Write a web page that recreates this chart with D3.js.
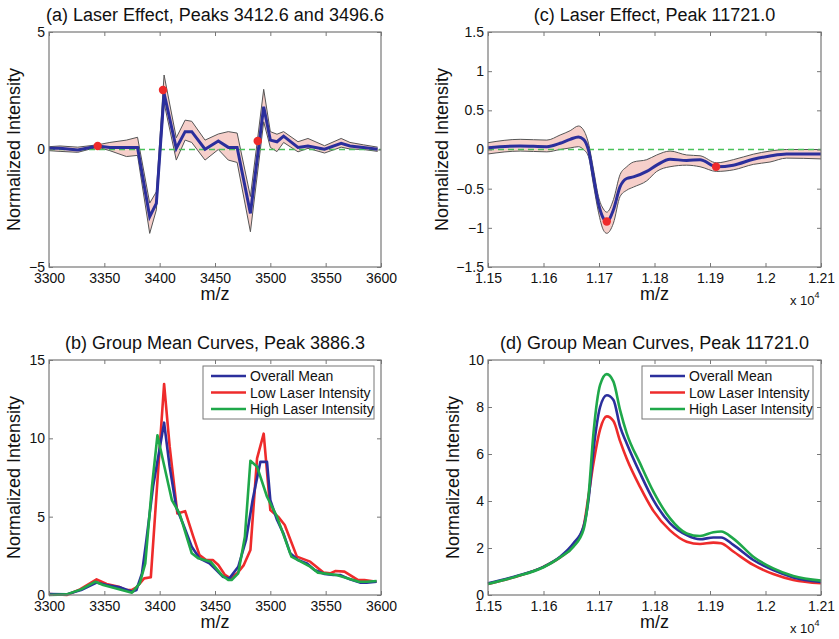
<!DOCTYPE html>
<html>
<head>
<meta charset="utf-8">
<script src="https://cdn.jsdelivr.net/npm/d3@7"></script>
<style>
  body { margin: 0; background: #fff; }
  svg { font-family: "Liberation Sans", Arial, Helvetica, sans-serif; }
</style>
</head>
<body>
<svg class="chart" width="839" height="639"></svg>
<script>
// ---- data: panel (a) laser effect, peaks 3412.6 / 3496.6
const aMz    = [3300, 3310, 3326, 3344, 3355, 3370, 3380, 3391, 3397, 3404, 3415, 3423, 3429, 3441, 3453, 3462, 3470, 3482, 3494, 3500, 3506, 3512, 3525, 3534, 3549, 3564, 3572, 3584, 3597];
const aMean  = [0.05, 0.05, -0.02, 0.15, 0.09, 0.09, 0.09, -2.86, -2.29, 2.39, 0.05, 0.76, 0.76, 0.01, 0.36, 0.09, 0.09, -2.72, 1.82, 0.4, 0.33, 0.57, 0.09, 0.15, 0.01, 0.26, 0.15, 0.09, 0.01];
const aUpper = [0.12, 0.15, 0.1, 0.2, 0.3, 0.4, 0.52, -2.28, -1.8, 3.17, 0.5, 1.25, 1.2, 0.4, 0.66, 0.76, 0.7, -2.0, 2.56, 0.76, 0.65, 0.76, 0.33, 0.47, 0.16, 0.47, 0.3, 0.2, 0.1];
const aLower = [-0.05, -0.08, -0.12, 0.1, -0.05, -0.3, -0.25, -3.57, -2.57, 1.98, -0.45, 0.4, 0.3, -0.45, 0.0, -0.45, -0.55, -3.5, 1.18, 0.09, -0.09, 0.3, -0.1, 0.05, -0.15, 0.1, 0.02, 0.0, -0.08];
const aDots  = [[3344, 0.15], [3403, 2.53], [3488.6, 0.36]];

// ---- panel (c) laser effect, peak 11721.0
const cMz    = [11500, 11558, 11606, 11630, 11648, 11663, 11672, 11681, 11690, 11699, 11708, 11714, 11726, 11738, 11750, 11762, 11786, 11804, 11828, 11858, 11882, 11912, 11942, 11978, 12008, 12038, 12100];
const cMean  = [0.023, 0.045, 0.036, 0.08, 0.13, 0.16, 0.13, -0.006, -0.35, -0.69, -0.88, -0.92, -0.77, -0.475, -0.37, -0.35, -0.28, -0.2, -0.125, -0.14, -0.13, -0.22, -0.2, -0.125, -0.083, -0.057, -0.057];
const cUpper = [0.087, 0.13, 0.12, 0.185, 0.24, 0.3, 0.25, 0.08, -0.25, -0.6, -0.76, -0.8, -0.64, -0.32, -0.22, -0.16, -0.13, -0.07, -0.02, -0.07, -0.08, -0.17, -0.13, -0.06, -0.02, 0.0, 0.0];
const cLower = [-0.057, -0.02, -0.03, 0.0, 0.02, 0.036, 0.0, -0.09, -0.45, -0.8, -1.03, -1.07, -0.94, -0.6, -0.52, -0.48, -0.4, -0.28, -0.22, -0.2, -0.22, -0.28, -0.26, -0.19, -0.16, -0.11, -0.12];
const cDots  = [[11714, -0.92], [11911, -0.22]];

// ---- panel (b) group mean curves, peak 3886.3
const bMeanMz = [3300, 3316, 3329, 3343, 3352, 3364, 3375, 3379, 3384, 3388, 3394, 3404, 3409, 3415, 3421, 3429, 3436, 3445, 3451, 3457, 3463, 3471, 3478, 3484, 3491, 3497, 3500, 3506, 3512, 3518, 3525, 3533, 3540, 3549, 3557, 3563, 3572, 3581, 3587, 3596];
const bMean   = [0.06, 0.04, 0.32, 0.8, 0.64, 0.49, 0.21, 0.32, 1.38, 3.5, 6.9, 11.0, 8.2, 5.6, 4.57, 3.08, 2.34, 2.02, 1.6, 1.17, 1.06, 1.8, 3.5, 6.06, 8.5, 8.5, 6.06, 4.8, 3.9, 2.66, 2.23, 2.02, 1.6, 1.34, 1.28, 1.28, 1.0, 0.79, 0.79, 0.85];
const bLowMz  = [3300, 3316, 3328, 3343, 3352, 3363, 3369, 3375, 3379, 3386, 3392, 3404, 3409, 3416, 3423, 3430, 3436, 3442, 3448, 3453, 3459, 3464, 3470, 3476, 3482, 3488, 3494, 3500, 3507, 3513, 3524, 3536, 3548, 3554, 3559, 3567, 3579, 3585, 3596];
const bLow    = [0.06, 0.0, 0.36, 1.0, 0.7, 0.53, 0.32, 0.32, 0.49, 1.06, 1.13, 13.47, 9.5, 5.2, 5.35, 3.8, 2.55, 2.23, 2.23, 1.91, 1.28, 1.06, 1.38, 1.91, 2.87, 8.72, 10.3, 5.42, 5.0, 4.47, 2.45, 2.13, 1.43, 1.38, 1.53, 1.49, 0.96, 0.96, 0.85];
const bHighMz = [3300, 3316, 3329, 3342, 3349, 3375, 3382, 3387, 3393, 3398, 3403, 3411, 3418, 3429, 3435, 3446, 3456, 3462, 3465, 3471, 3477, 3482, 3488, 3497, 3506, 3519, 3525, 3536, 3543, 3560, 3580, 3587, 3596];
const bHigh   = [0.0, 0.04, 0.36, 0.85, 0.64, 0.15, 0.74, 2.02, 6.9, 10.2, 8.6, 6.06, 5.2, 2.66, 2.34, 2.13, 1.28, 0.96, 0.96, 1.38, 3.72, 8.57, 8.19, 6.27, 5.0, 2.45, 2.23, 1.81, 1.43, 1.28, 0.85, 0.85, 0.89];

// ---- panel (d) group mean curves, peak 11721.0
const dMz   = [11500, 11550, 11600, 11630, 11654, 11672, 11681, 11690, 11702, 11714, 11726, 11738, 11750, 11774, 11798, 11828, 11858, 11882, 11906, 11920, 11942, 11978, 12014, 12050, 12100];
const dMean = [0.5, 0.8, 1.2, 1.63, 2.2, 2.9, 4.04, 6.17, 8.0, 8.5, 8.3, 7.16, 6.45, 5.18, 4.04, 3.05, 2.55, 2.37, 2.45, 2.45, 2.13, 1.49, 1.06, 0.75, 0.56];
const dLow  = [0.47, 0.78, 1.2, 1.6, 2.09, 2.9, 4.2, 5.6, 7.05, 7.6, 7.4, 6.55, 5.8, 4.6, 3.58, 2.75, 2.27, 2.17, 2.23, 2.2, 1.85, 1.28, 0.89, 0.64, 0.5];
const dHigh = [0.47, 0.78, 1.18, 1.6, 2.06, 2.77, 4.18, 6.88, 8.94, 9.4, 9.08, 7.87, 6.88, 5.6, 4.4, 3.26, 2.62, 2.51, 2.67, 2.7, 2.4, 1.63, 1.13, 0.81, 0.61];

// ticks / labels
const lowMzTicks  = [3300, 3350, 3400, 3450, 3500, 3550, 3600];
const highMzTicks = [11500, 11600, 11700, 11800, 11900, 12000, 12100];
const legendNames = ["Overall Mean", "Low Laser Intensity", "High Laser Intensity"];

// config
const frameColor = "#777";
const blue = "#2b2f9c";
const red = "#ee2b2b";
const green = "#1fa84a";
const svg = d3.select("svg.chart");

const minus = s => s.replace("-", "\u2212");
const fmtPlain = d => minus(String(d));
const fmtE4 = d => String(+(d / 1e4).toFixed(3));

function pairs(xs, ys) {
  return xs.map((v, i) => [v, ys[i]]);
}

function makePanel(box, xDomain, yDomain, xTicks, yTicks, xFmt, title, yLabelX, expLabel) {
  const x = d3.scaleLinear().domain(xDomain).range([box.left, box.right]);
  const y = d3.scaleLinear().domain(yDomain).range([box.bottom, box.top]);
  const g = svg.append("g");
  const data = g.append("g");
  const axes = g.append("g");

  axes.append("rect")
    .attr("x", box.left).attr("y", box.top)
    .attr("width", box.right - box.left).attr("height", box.bottom - box.top)
    .attr("fill", "none").attr("stroke", frameColor).attr("stroke-width", 1.2);

  const put = (axis, tx, ty) => {
    const a = axes.append("g").attr("transform", `translate(${tx},${ty})`).call(axis);
    a.select(".domain").remove();
    a.selectAll(".tick line").attr("stroke", frameColor);
    a.selectAll(".tick text").attr("fill", "#111").style("font-size", "14px");
    return a;
  };
  put(d3.axisBottom(x).tickValues(xTicks).tickFormat(xFmt).tickSizeInner(-4).tickSizeOuter(0).tickPadding(6), 0, box.bottom);
  put(d3.axisTop(x).tickValues(xTicks).tickFormat("").tickSizeInner(-4).tickSizeOuter(0), 0, box.top);
  put(d3.axisLeft(y).tickValues(yTicks).tickFormat(fmtPlain).tickSizeInner(-4).tickSizeOuter(0).tickPadding(4), box.left, 0);
  put(d3.axisRight(y).tickValues(yTicks).tickFormat("").tickSizeInner(-4).tickSizeOuter(0), box.right, 0);

  const cx = (box.left + box.right) / 2;
  axes.append("text").attr("x", cx).attr("y", box.top - 11)
    .attr("text-anchor", "middle").style("font-size", "18px").attr("fill", "#111").text(title);
  axes.append("text").attr("x", cx).attr("y", box.bottom + 33)
    .attr("text-anchor", "middle").style("font-size", "18px").attr("fill", "#111").text("m/z");
  axes.append("text")
    .attr("transform", `translate(${yLabelX},${(box.top + box.bottom) / 2}) rotate(-90)`)
    .attr("text-anchor", "middle").style("font-size", "18px").attr("fill", "#111").text("Normalized Intensity");

  if (expLabel) {
    const t = axes.append("text").attr("x", box.right - 31).attr("y", box.bottom + 38)
      .style("font-size", "13px").attr("fill", "#111");
    t.append("tspan").text("x 10");
    t.append("tspan").attr("dy", -7).style("font-size", "9px").text("4");
  }
  return { x, y, data, axes };
}

function drawBand(p, mz, mean, upper, lower, dots, curve) {
  const area = d3.area().x(d => p.x(d[0])).y0(d => p.y(d[2])).y1(d => p.y(d[1])).curve(curve);
  const rows = mz.map((m, i) => [m, upper[i], lower[i]]);
  p.data.append("path").attr("d", area(rows)).attr("fill", "#f6cfca").attr("stroke", "none");
  const line = d3.line().x(d => p.x(d[0])).y(d => p.y(d[1])).curve(curve);
  p.data.append("path").attr("d", line(pairs(mz, upper))).attr("fill", "none").attr("stroke", "#555").attr("stroke-width", 1);
  p.data.append("path").attr("d", line(pairs(mz, lower))).attr("fill", "none").attr("stroke", "#555").attr("stroke-width", 1);
  // zero reference line
  p.data.append("line")
    .attr("x1", p.x.range()[0]).attr("x2", p.x.range()[1])
    .attr("y1", p.y(0)).attr("y2", p.y(0))
    .attr("stroke", "#49c25a").attr("stroke-width", 1.3).attr("stroke-dasharray", "6,4");
  p.data.append("path").attr("d", line(pairs(mz, mean))).attr("fill", "none").attr("stroke", blue).attr("stroke-width", 3);
  p.data.selectAll("circle.dot").data(dots).enter().append("circle")
    .attr("class", "dot")
    .attr("cx", d => p.x(d[0])).attr("cy", d => p.y(d[1])).attr("r", 4.2)
    .attr("fill", "#ee2a2a");
}

function drawGroups(p, series, curve) {
  const line = d3.line().x(d => p.x(d[0])).y(d => p.y(d[1])).curve(curve);
  series.forEach(s => {
    p.data.append("path").attr("d", line(pairs(s.mz, s.v)))
      .attr("fill", "none").attr("stroke", s.color).attr("stroke-width", 2.6)
      .attr("stroke-linejoin", "round");
  });
}

function drawLegend(p, left, top, colors) {
  const w = 171, h = 53;
  const lg = p.axes.append("g").attr("transform", `translate(${left},${top})`);
  lg.append("rect").attr("width", w).attr("height", h).attr("fill", "#fff").attr("stroke", frameColor).attr("stroke-width", 1);
  legendNames.forEach((name, i) => {
    const yy = 10 + i * 16.5;
    lg.append("line").attr("x1", 8).attr("x2", 43).attr("y1", yy).attr("y2", yy)
      .attr("stroke", colors[i]).attr("stroke-width", 2.6);
    lg.append("text").attr("x", 47).attr("y", yy + 5).style("font-size", "14px").attr("fill", "#111").text(name);
  });
}

// ---- build panels
const boxA = { left: 49, right: 381, top: 32, bottom: 267 };
const boxC = { left: 488, right: 821, top: 32, bottom: 267 };
const boxB = { left: 49, right: 381, top: 360, bottom: 595 };
const boxD = { left: 488, right: 821, top: 360, bottom: 595 };

const pA = makePanel(boxA, [3300, 3600], [-5, 5], lowMzTicks, [-5, 0, 5], fmtPlain,
  "(a) Laser Effect, Peaks 3412.6 and 3496.6", 20, false);
drawBand(pA, aMz, aMean, aUpper, aLower, aDots, d3.curveLinear);

const pC = makePanel(boxC, [11500, 12100], [-1.5, 1.5], highMzTicks, [-1.5, -1, -0.5, 0, 0.5, 1, 1.5], fmtE4,
  "(c) Laser Effect, Peak 11721.0", 448, true);
drawBand(pC, cMz, cMean, cUpper, cLower, cDots, d3.curveMonotoneX);

const pB = makePanel(boxB, [3300, 3600], [0, 15], lowMzTicks, [0, 5, 10, 15], fmtPlain,
  "(b) Group Mean Curves, Peak 3886.3", 20, false);
drawGroups(pB, [
  { mz: bLowMz, v: bLow, color: red },
  { mz: bMeanMz, v: bMean, color: blue },
  { mz: bHighMz, v: bHigh, color: green }
], d3.curveLinear);
drawLegend(pB, 203, 366, [blue, red, green]);

const pD = makePanel(boxD, [11500, 12100], [0, 10], highMzTicks, [0, 2, 4, 6, 8, 10], fmtE4,
  "(d) Group Mean Curves, Peak 11721.0", 459, true);
drawGroups(pD, [
  { mz: dMz, v: dLow, color: red },
  { mz: dMz, v: dMean, color: blue },
  { mz: dMz, v: dHigh, color: green }
], d3.curveMonotoneX);
drawLegend(pD, 642, 366, [blue, red, green]);
</script>
</body>
</html>
